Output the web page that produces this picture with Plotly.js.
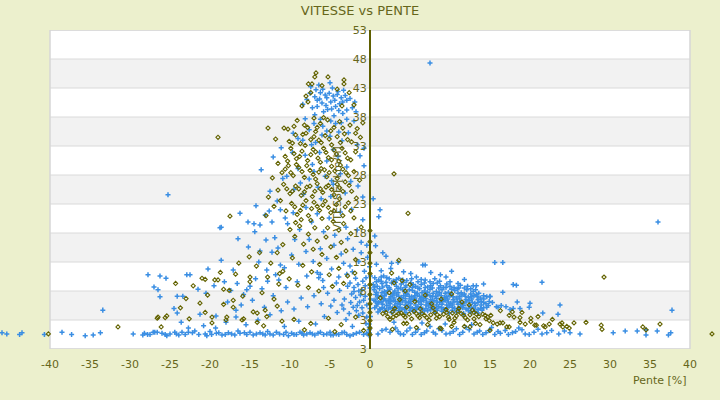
<!DOCTYPE html>
<html><head><meta charset="utf-8">
<script src="https://cdn.plot.ly/plotly-3.0.1.min.js"></script>
<style>html,body{margin:0;padding:0;background:#ecf0cd;}#chart{width:720px;height:400px;}</style>
</head><body><div id="chart"></div>
<script>
// Blue series (plus markers): [pente %, vitesse km/h]
const bluePts = [
[-46.0,0.8],[-45.4,0.6],[-43.8,0.5],[-43.5,0.8],[-40.7,0.5],[-38.5,0.9],[-37.3,0.5],[-35.6,0.3],[-34.6,0.4],[-33.7,0.8],[-33.4,4.7],
[-29.6,0.6],[-28.4,0.4],[-28.2,0.7],[-27.5,0.5],[-27.1,0.9],[-26.9,0.9],[-26.6,0.9],[-25.6,0.5],[-25.4,0.3],[-24.4,0.9],[-24.2,0.6],[-23.9,0.4],[-23.5,0.9],[-22.7,0.9],[-22.7,1.6],[-21.9,1.1],[-20.6,0.6],[-20.4,0.3],[-19.8,0.5],[-19.3,1.6],[-19.2,0.7],[-18.5,0.4],[-17.7,0.8],[-16.9,0.4],[-16.25,0.7],[-15.4,0.5],[-15.0,0.9],[-14.6,0.4],[-14.2,0.6],[-13.75,0.8],[-13.1,0.4],[-12.5,0.6],[-11.7,0.9],[-10.8,0.5],[-10.2,0.3],[-9.8,0.7],[-9.2,0.5],[-8.75,0.9],[-8.3,0.4],[-7.9,0.6],[-7.5,0.8],[-6.9,0.4],[-6.5,0.7],[-5.8,0.5],[-5.0,0.9],[-4.6,0.4],[-4.2,0.6],[-3.5,0.8],[-2.9,0.5],[-2.5,0.3],[-1.7,0.7],[-0.8,0.5],
[-27.8,0.5],[-26.0,0.7],[-25.0,0.6],[-23.1,0.5],[-22.2,0.8],[-21.4,0.5],[-20.0,1.0],[-18.9,0.8],[-18.1,0.5],[-17.3,0.6],[-16.5,1.1],[-15.7,0.8],[-13.4,0.6],[-12.8,1.0],[-12.1,0.4],[-11.3,0.6],[-10.5,0.9],[-9.5,0.5],[-8.5,0.7],[-7.2,0.6],[-6.2,0.9],[-5.4,0.6],[-4.9,0.4],[-3.9,0.5],[-3.2,0.9],[-2.1,0.5],[-1.3,0.9],[-0.4,0.7],
[-27.0,8.7],[-26.5,8.2],[-26.25,7.0],[-26.25,10.6],[-27.75,10.8],[-25.5,10.2],[-24.1,7.1],[-23.4,7.1],[-24.5,5.0],[-24.1,4.2],[-22.9,10.8],[-22.5,10.8],[-21.25,4.0],[-20.25,11.8],[-19.25,3.7],[-18.6,13.3],[-16.75,4.7],[-16.75,3.5],[-21.5,8.3],[-20.5,7.6],[-19.5,8.9],[-18.2,9.6],[-17.4,8.1],[-16.6,9.3],[-15.8,7.4],[-15.4,8.2],[-15.0,8.8],[-14.3,10.1],[-13.5,8.4],[-12.8,9.7],[-12.1,7.2],[-17.8,6.1],[-16.1,5.6],[-14.7,6.4],[-13.2,5.2],[-12.5,3.9],[-14.0,3.0],[-15.5,2.2],[-18.0,2.6],[-20.8,2.0],[-23.6,2.6],[-17.1,11.6],[-12.25,14.7],[-11.5,15.4],[-13.75,14.9],[-13.9,13.0],[-12.9,11.6],[-11.2,12.5],[-11.8,10.8],
[-25.25,24.6],[-18.6,19.0],[-18.75,18.9],[-16.25,21.4],[-16.5,17.0],[-14.25,22.7],[-15.25,19.9],[-14.5,19.6],[-13.75,19.4],[-14.4,18.2],[-13.1,21.1],[-12.6,21.8],[-12.25,19.9],[-13.6,28.9],[-12.1,31.1],[-11.1,32.7],[-12.5,25.2],[-11.6,23.5],[-10.9,27.4],[-11.9,17.2],[-10.6,20.6],[-15.2,15.6],[-13.0,16.8],
[-5.0,43.9],[-7.4,43.2],[-6.75,42.7],[-6.2,42.2],[-5.6,41.8],[-5.1,42.1],[-4.6,41.6],[-4.1,41.9],[-3.6,41.3],[-3.1,41.7],[-2.9,40.9],[-6.6,40.9],[-6.0,40.4],[-5.5,40.0],[-4.9,40.6],[-4.3,39.8],[-3.8,40.3],[-7.9,41.0],[-7.2,39.6],[-2.9,39.2],[-1.75,38.9],[-2.9,37.6],[-6.9,38.4],[-5.8,38.9],[-4.5,38.2],[-3.4,38.6],[-8.1,37.7],[-7.5,42.1],[-4.7,43.0],[-3.3,42.6],[-6.4,43.5],[-5.3,39.3],[-8.4,40.2],[-1.9,40.6],
[-6.9,41.5],[-6.3,41.1],[-5.4,41.3],[-4.4,40.9],[-3.4,40.6],[-5.9,42.8],[-4.0,42.4],[-2.5,41.2],[-6.6,39.8],[-4.8,39.4],[-3.9,39.1],[-2.2,39.6],[-7.0,36.9],[-6.2,37.6],[-4.9,37.3],[-3.6,37.0],[-2.0,37.3],[-5.4,35.6],[-3.9,35.4],[-7.3,33.2],[-6.0,34.9],
[-9.6,35.2],[-9.0,34.3],[-8.4,34.0],[-7.6,35.8],[-6.8,33.6],[-5.9,36.4],[-5.0,34.7],[-4.3,36.9],[-3.5,33.9],[-2.7,35.3],[-1.6,33.2],[-0.75,32.6],[-1.25,31.3],[-0.75,29.6],[-1.5,26.1],[-0.9,24.2],[-2.9,29.4],[-4.0,31.2],[-4.6,32.4],[-5.4,30.4],[-6.3,31.9],[-7.2,29.8],[-7.0,28.6],[-8.1,31.4],[-9.0,29.1],[-9.7,31.9],[-10.4,27.8],[-8.7,26.6],[-7.6,27.3],[-6.5,25.9],[-5.6,27.8],[-4.8,27.0],[-4.6,26.4],[-3.7,28.2],[-2.4,26.9],[-3.1,24.9],[-8.3,24.7],[-9.5,25.5],[-6.1,23.9],[-4.9,24.3],
[-11.2,22.0],[-10.3,19.6],[-9.6,21.5],[-8.8,18.6],[-8.0,22.4],[-7.3,19.9],[-6.6,21.3],[-5.8,18.2],[-5.1,20.6],[-4.4,17.6],[-3.7,21.6],[-3.0,19.0],[-2.3,22.1],[-1.6,18.5],[-0.9,20.3],[-1.1,16.4],[-2.1,15.2],[-2.8,17.0],[-3.6,14.4],[-4.5,15.9],[-5.4,13.6],[-6.2,15.3],[-7.1,13.1],[-8.0,14.8],[-8.9,12.6],[-9.8,14.2],[-10.7,12.0],[-9.4,16.9],[-7.6,16.9],[-6.6,11.2],[-5.9,9.8],[-6.4,10.3],[-6.2,10.9],[-4.8,11.8],[-3.9,10.4],[-2.5,12.3],[-1.4,13.1],[-0.7,11.4],[-7.9,10.6],[-9.1,9.6],[-10.5,8.6],[-11.4,9.9],
[-2.5,9.4],[-2.0,8.6],[-1.5,9.1],[-1.0,8.2],[-2.3,7.5],[-1.8,6.9],[-1.2,7.3],[-0.8,6.4],[-2.4,6.0],[-1.6,5.5],[-1.0,5.1],[-2.1,5.2],[-0.6,8.9],[-1.3,6.1],[-2.0,7.9],[-3.2,6.6],[-3.8,8.1],[-4.5,6.4],[-5.3,7.6],[-6.1,5.8],[-7.0,7.2],[-7.8,5.3],[-8.6,6.8],[-9.5,4.9],[-10.3,6.1],[-11.1,4.6],[-4.1,4.3],[-5.7,3.6],[-3.0,3.1],[-1.4,3.8],[-0.5,2.4],[-2.2,1.9],[-6.8,2.3],[-8.9,2.8],[-10.7,1.9],
[-0.4,3.5],[-0.9,4.2],[-1.7,4.6],[-2.6,4.1],[-0.4,5.6],[-0.6,7.1],[-1.4,8.0],[-2.8,8.8],[-0.9,9.7],[-1.8,10.2],[-0.5,10.3],[-2.9,10.9],[-3.3,12.8],[-4.2,9.4],[-4.9,5.4],[-5.8,8.6],[-3.5,5.6],[-0.3,13.8],[-1.1,14.6],[-0.4,15.9],[-2.2,11.3],[-3.3,4.9],
[-0.1,0.3],[-0.1,0.8],[-0.1,1.3],[-0.1,1.8],[-0.1,2.3],[0.05,3.6],[0.0,5.0],[0.05,6.6],[0.0,8.5],[0.05,10.6],[-0.05,12.2],
[0.4,23.9],[1.25,22.0],[1.1,20.8],[0.6,17.5],[0.7,15.8],[1.6,14.6],[2.0,14.0],[0.8,12.6],[1.4,11.5],[2.6,11.9],[2.7,12.8],[3.5,12.9],[6.6,12.5],[6.9,12.5],[10.2,11.4],[5.1,11.0],[7.6,11.2],[8.8,10.8],[4.2,11.3],[9.5,10.4],[11.8,10.0],[14.2,9.2],[12.9,8.9],[13.3,8.9],[17.9,9.1],[18.3,9.0],[21.5,9.5],[16.6,7.8],[15.0,7.0],[20.0,5.9],[23.75,5.6],[23.5,4.0],[21.6,4.2],[19.9,5.2],[18.75,5.0],[18.4,6.1],[17.9,5.0],[17.5,4.8],[17.0,5.3],[16.4,5.5],[16.0,5.2],[15.6,12.9],[16.6,12.9],[7.5,47.3],[36.0,19.9],[37.75,4.7],
[0.6,10.3],[1.1,9.9],[1.7,10.6],[2.4,10.1],[2.9,9.7],[3.6,10.2],[4.6,9.8],[5.8,10.4],[6.9,9.9],[8.1,10.1],
[0.4,9.1],[0.9,8.8],[1.5,9.3],[2.1,8.9],[2.7,9.4],[3.3,8.8],[3.9,9.2],[4.5,8.9],[5.1,9.4],[5.7,8.8],[6.4,9.1],[7.2,8.7],[7.9,9.3],[8.8,8.9],[9.6,9.2],[10.5,8.6],[11.3,9.0],[12.2,8.8],
[0.5,8.2],[1.2,8.4],[1.8,7.9],[2.5,8.3],[3.1,8.0],[3.8,8.5],[4.3,7.9],[4.9,8.2],[5.6,7.8],[6.2,8.4],[6.8,8.0],[7.5,8.3],[8.3,7.9],[9.0,8.2],[9.8,7.8],[10.6,8.1],[11.4,7.7],[12.1,8.2],[12.9,7.9],[13.6,7.6],
[0.7,7.4],[1.4,7.1],[2.0,7.5],[2.6,7.0],[3.3,7.3],[3.9,6.9],[4.6,7.4],[5.2,7.0],[5.9,7.3],[6.5,6.9],[7.1,7.4],[7.8,7.0],[8.5,7.3],[9.3,6.9],[10.0,7.2],[10.8,6.8],[11.5,7.3],[12.3,6.9],[13.0,7.2],[13.8,6.8],[14.6,7.0],[15.0,7.1],
[0.5,6.4],[1.1,6.0],[1.7,6.5],[2.3,6.1],[2.9,6.4],[3.5,5.9],[4.1,6.3],[4.8,6.0],[5.4,6.5],[6.1,6.1],[6.7,6.4],[7.4,5.9],[8.0,6.3],[8.7,6.0],[9.4,6.4],[10.1,5.9],[10.9,6.2],[11.6,5.8],[12.4,6.3],[13.1,5.9],[13.9,6.2],[14.5,5.8],[15.3,6.0],
[0.8,5.4],[1.5,5.1],[2.1,5.5],[2.8,5.0],[3.4,5.3],[4.0,4.9],[4.7,5.4],[5.3,5.0],[6.0,5.3],[6.6,4.9],[7.3,5.4],[7.9,5.0],[8.6,5.3],[9.2,4.9],[9.9,5.4],[10.6,5.0],[11.3,5.3],[12.0,4.9],[12.7,5.2],[13.5,4.8],[14.2,5.1],[15.8,5.3],
[1.0,4.4],[1.9,4.6],[2.7,4.3],[3.6,4.6],[4.5,4.3],[5.4,4.5],[6.3,4.2],[7.2,4.6],[8.1,4.3],[9.0,4.5],[9.9,4.2],[10.8,4.4],[11.7,4.1],[12.6,4.4],[13.5,4.2],
[0.8,9.6],[1.4,9.7],[2.0,9.5],[3.2,9.5],[4.2,9.5],[5.4,9.1],[6.0,9.6],[6.8,9.4],[7.6,8.9],[8.4,9.4],[9.2,8.6],[10.0,8.8],[10.9,8.4],[11.8,8.5],
[0.8,7.8],[1.5,7.7],[2.2,8.1],[2.9,7.6],[3.5,7.7],[4.1,8.2],[4.6,7.6],[5.3,8.1],[5.9,7.6],[6.5,7.7],[7.2,7.8],[7.9,7.6],[8.7,7.7],[9.4,7.6],[10.2,7.5],[11.0,7.6],[11.8,7.5],[12.6,7.5],[13.3,7.4],
[0.9,6.8],[1.7,6.7],[2.4,6.6],[3.0,6.8],[3.7,6.6],[4.4,6.7],[5.0,6.6],[5.6,6.8],[6.3,6.6],[7.0,6.7],[7.6,6.5],[8.3,6.7],[8.9,6.5],[9.7,6.6],[10.4,6.5],[11.2,6.6],[12.0,6.5],[12.7,6.6],[13.5,6.5],[14.2,6.6],
[0.9,5.8],[1.6,5.7],[2.5,5.8],[3.1,5.6],[3.8,5.7],[4.4,5.6],[5.1,5.8],[5.7,5.6],[6.4,5.7],[7.0,5.6],[7.7,5.7],[8.3,5.6],[9.0,5.7],[9.6,5.6],[10.3,5.6],[11.0,5.7],[11.7,5.5],[12.4,5.6],[13.2,5.5],[13.9,5.6],[14.8,5.5],
[1.3,4.8],[2.3,4.9],[3.1,4.7],[4.3,4.8],[5.0,4.7],[5.8,4.8],[6.8,4.6],[7.6,4.8],[8.4,4.7],[9.5,4.8],[10.3,4.7],[11.1,4.8],[12.3,4.6],[13.1,4.5],[14.0,4.7],
[1.4,10.4],[2.1,10.3],[3.3,10.0],[4.1,9.9],[5.2,10.1],[6.4,10.0],[7.5,9.6],[8.7,9.7],[10.0,9.6],[11.0,9.3],
[0.6,8.7],[1.6,8.7],[2.4,8.6],[3.5,8.4],[4.4,8.6],[5.3,8.6],[6.0,8.5],[6.9,8.6],[7.8,8.5],[8.6,8.5],[9.5,8.6],[10.2,8.3],[11.1,8.5],[12.6,8.4],[13.2,8.2],
[1.0,7.2],[1.8,7.2],[2.8,7.3],[3.6,7.1],[4.2,7.2],[4.9,7.1],[5.6,7.2],[6.2,7.1],[6.9,7.1],[7.5,7.2],[8.2,7.1],[8.9,7.2],[9.6,7.0],[10.4,7.0],[11.2,7.0],[11.9,7.1],[12.7,7.0],[13.4,7.0],[14.2,7.2],
[0.7,6.2],[1.4,6.2],[2.0,6.3],[2.6,6.2],[3.2,6.2],[3.8,6.1],[4.5,6.1],[5.1,6.2],[5.8,6.3],[6.4,6.2],[7.1,6.1],[7.7,6.2],[8.4,6.1],[9.1,6.2],[9.8,6.1],[10.5,6.1],[11.3,6.0],[12.0,6.1],[12.8,6.0],[13.5,6.0],[14.2,6.0],[14.9,6.2],
[0.6,5.1],[1.2,4.9],[1.8,5.0],[2.5,5.2],[3.1,5.1],[3.7,5.1],[4.4,5.1],[5.0,5.2],[5.7,5.1],[6.3,5.1],[7.0,5.0],[7.6,5.1],[8.3,5.0],[8.9,5.1],[9.6,5.1],[10.3,5.2],[11.0,5.0],[11.6,5.1],[12.3,5.0],[13.0,5.0],[13.8,5.0],[14.6,5.2],
[1.5,1.2],[2.5,0.9],[3.2,1.6],[3.8,0.6],[4.6,1.1],[5.3,0.5],[6.0,1.4],[6.8,0.8],[7.5,1.9],[8.2,0.6],[9.0,1.2],[10.0,0.7],[10.8,1.5],[11.6,0.9],[12.4,1.3],[13.0,0.6],[13.7,1.1],[14.5,0.8],[15.2,1.7],[16.0,1.0],[16.3,0.7],[16.9,1.2],[17.8,0.8],[18.6,1.6],[19.4,0.6],[20.5,0.9],[21.0,1.4],[22.1,0.8],[23.6,0.6],[24.3,1.1],[26.25,0.6],[30.4,0.8],[31.9,1.1],[33.4,1.1],[34.5,1.3],[34.5,0.4],[35.9,1.1],[37.3,0.4],[37.6,0.8],
[1.0,0.6],[2.0,1.4],[3.5,1.0],[4.2,0.5],[5.0,1.6],[5.7,0.9],[6.4,0.5],[7.1,1.1],[7.9,0.9],[8.6,1.5],[9.5,0.6],[10.4,1.0],[11.2,0.5],[12.0,1.7],[13.4,0.9],[14.1,0.5],[14.9,1.2],[15.6,0.5],[17.3,0.5],[18.2,1.0],[19.0,1.3],[19.9,0.5],[21.5,0.6],[22.7,1.2],[25.0,0.8],[12.7,2.2],[9.4,2.3],[6.5,2.5],[3.0,2.6]
];
// Olive series (diamond markers): [pente %, vitesse km/h]
const olivePts = [
[3.0,28.2],[4.75,21.4],[-19.0,34.5],[29.25,10.4],[42.75,0.6],[-40.2,0.6],[-17.5,20.9],[-31.5,1.8],
[1.6,4.1],[2.2,3.6],[2.8,4.4],[3.3,3.8],[3.9,4.2],[4.4,3.5],[4.9,4.0],[5.5,4.5],[6.0,3.7],[6.5,4.1],[7.1,3.4],[7.6,3.9],[8.1,4.3],[8.7,3.6],[9.2,4.0],[9.8,3.5],[10.3,4.2],[10.8,3.7],[11.4,4.1],[11.9,3.4],[12.5,3.9],[13.0,4.3],[13.6,3.6],[14.1,4.0],[14.7,3.5],[3.1,5.0],[4.6,5.2],[6.3,4.9],[7.9,5.1],[9.5,4.8],[11.1,5.0],[12.8,4.7],[2.5,3.1],[5.2,3.2],[7.4,3.0],[9.9,3.1],[12.2,3.0],[14.9,2.9],
[2.0,4.3],[3.6,4.1],[4.2,3.8],[5.8,4.1],[6.8,3.8],[8.4,3.9],[9.6,4.3],[11.0,4.5],[11.7,3.8],[13.3,4.0],[14.4,3.8],[2.9,3.5],[6.2,3.4],[8.3,3.3],[10.6,3.3],[13.0,3.2],
[1.3,6.8],[2.4,7.7],[3.7,6.5],[4.4,8.0],[5.6,6.2],[6.9,7.3],[7.7,5.8],[8.9,6.6],[10.2,7.5],[11.5,6.1],[12.4,5.6],[3.0,9.4],[4.0,9.8],[5.0,9.1],[2.7,11.1],[3.6,13.3],
[15.4,2.5],[15.9,2.3],[16.25,2.5],[16.6,2.5],[17.1,1.8],[17.4,1.8],[17.4,3.8],[18.0,3.5],[18.75,3.4],[19.4,2.3],[20.1,3.3],[20.1,2.7],[20.6,2.1],[20.8,2.1],[21.9,1.8],[22.4,2.3],[23.75,2.3],[24.1,1.8],[24.9,1.6],[25.5,2.5],[27.0,2.6],[28.9,2.1],[29.0,1.4],[34.1,1.8],[34.5,1.3],[36.25,2.3],[14.5,3.2],[15.1,3.8],[13.2,2.4],[11.8,1.9],[10.5,2.6],[8.9,1.5],[7.2,2.2],[5.8,1.7],[4.2,2.4],[2.8,1.4],[19.0,4.3],[21.0,3.6],[22.8,3.1],[16.3,4.6],[17.8,4.4],[4.6,2.4],[8.75,1.6],[10.2,1.9],[12.5,1.8],[13.75,2.2],[15.0,1.2],[18.75,2.6],[21.7,2.0],[24.0,2.5],[24.6,1.9],
[-6.75,45.6],[-6.9,44.9],[-5.25,44.9],[-7.7,43.7],[-7.25,43.7],[-3.25,44.4],[-3.25,43.7],[-4.1,42.8],[-8.0,41.6],[-7.75,40.6],[-7.4,42.2],[-6.0,43.4],[-2.6,42.2],[-8.5,39.9],[-2.0,40.1],[-3.5,39.9],
[-10.75,36.1],[-10.25,35.9],[-12.75,36.1],[-9.1,37.4],[-8.2,36.6],[-7.0,37.8],[-6.2,36.9],[-5.3,37.5],[-4.5,36.2],[-3.8,37.2],[-2.5,36.6],[-0.9,37.0],[-1.6,36.0],
[-10.1,33.8],[-9.3,34.9],[-8.7,33.4],[-8.0,35.2],[-7.4,34.1],[-6.8,35.5],[-6.1,33.6],[-5.6,34.8],[-4.8,33.2],[-4.1,34.6],[-3.2,35.1],[-2.3,33.7],[-1.2,34.5],[-11.8,34.2],
[-10.6,31.2],[-9.9,32.6],[-9.2,30.8],[-8.5,32.1],[-7.8,30.5],[-7.1,32.4],[-6.5,30.9],[-5.8,32.6],[-5.2,31.0],[-4.5,32.3],[-3.9,30.4],[-3.1,31.8],[-2.4,30.6],[-1.8,32.0],[-11.5,30.0],
[-11.0,28.4],[-10.2,29.6],[-9.6,27.9],[-8.9,29.3],[-8.2,27.6],[-7.5,28.8],[-6.8,27.3],[-6.1,29.1],[-5.4,27.7],[-4.8,29.5],[-4.1,27.4],[-3.4,29.0],[-2.7,27.9],[-2.0,28.6],[-1.3,27.1],[-12.2,27.5],
[-11.5,25.4],[-10.8,26.4],[-10.0,24.8],[-9.3,26.1],[-8.6,24.5],[-7.9,25.9],[-7.2,24.3],[-6.6,26.5],[-5.9,25.0],[-5.2,26.2],[-4.5,24.6],[-3.8,25.8],[-3.1,26.8],[-2.3,25.2],[-1.7,24.0],[-12.7,24.2],
[-12.0,22.6],[-11.2,23.6],[-10.5,21.8],[-9.8,23.1],[-9.1,21.2],[-8.4,22.8],[-7.7,21.0],[-7.0,23.3],[-6.3,21.9],[-5.6,23.5],[-4.9,21.5],[-4.2,22.9],[-3.4,21.0],[-2.7,23.2],[-2.0,20.6],[-1.1,19.0],[-13.0,21.0],
[-9.5,36.4],[-7.8,36.2],[-6.6,36.2],[-5.8,37.9],[-4.9,35.6],[-3.4,36.1],[-9.7,33.5],[-8.4,35.0],[-7.0,34.6],[-6.4,34.0],[-5.1,34.2],[-3.7,33.6],[-2.8,34.1],[-1.8,35.2],[-10.3,30.4],[-9.5,31.7],[-8.8,31.2],[-8.1,33.1],[-7.4,31.5],[-6.8,32.0],[-6.2,30.2],[-5.5,31.9],[-4.8,30.6],[-4.2,31.6],[-3.5,32.6],[-2.8,30.9],[-10.6,29.0],[-9.9,28.4],[-9.2,29.8],[-8.5,28.6],[-7.9,29.6],[-7.1,28.1],[-6.4,28.5],[-5.7,28.9],[-5.1,28.4],[-4.4,28.7],[-3.7,29.7],[-3.0,28.4],[-10.4,25.6],[-9.7,25.2],[-8.9,25.6],[-8.2,25.1],[-7.5,26.1],[-6.9,25.2],[-6.2,25.6],[-5.5,25.9],[-4.8,25.5],[-4.1,26.4],[-3.4,25.2],[-2.6,26.2],[-9.4,22.5],[-8.7,21.9],[-8.0,23.6],[-7.3,22.2],[-6.6,22.6],[-5.9,22.8],[-5.2,22.4],[-4.5,21.8],[-3.8,23.9],[-3.1,22.5],[-2.4,21.8],[-8.6,20.3],[-7.4,20.2],[-6.0,20.5],[-4.6,20.0],[-3.3,19.6],[-9.3,19.8],[-6.9,18.9],[-5.3,18.9],[-3.9,18.5],
[-10.0,18.6],[-9.4,17.4],[-8.8,19.2],[-8.3,16.1],[-7.7,17.8],[-7.1,15.2],[-6.6,16.6],[-6.0,14.3],[-5.5,17.3],[-4.9,15.6],[-4.2,13.8],[-3.6,16.4],[-3.0,14.9],[-2.4,17.9],[-1.8,13.4],[-10.9,16.0],[-11.6,14.6],[-9.7,13.7],[-8.4,12.4],[-7.3,11.3],[-6.3,12.6],[-5.1,10.8],[-3.9,11.9],[-2.8,10.6],[-12.4,12.8],[-11.3,11.0],[-10.1,10.1],[-9.0,9.0],[-7.7,8.6],[-6.4,8.0],[-4.7,8.8],[-3.3,9.3],[-1.9,11.1],
[-26.5,3.5],[-25.4,3.7],[-26.1,1.8],[-21.25,5.9],[-19.75,3.5],[-19.75,2.5],[-18.3,5.7],[-17.9,3.5],[-24.3,9.3],[-23.0,6.7],[-22.1,8.9],[-21.0,10.2],[-20.6,10.0],[-20.3,7.3],[-19.4,9.9],[-19.0,9.9],[-18.7,11.2],[-18.3,8.3],[-17.6,8.1],[-17.1,6.4],[-16.8,10.9],[-15.9,7.1],[-15.0,9.6],[-15.0,10.4],[-14.2,12.3],[-14.1,4.2],[-13.5,7.7],[-13.1,4.7],[-12.8,10.4],[-12.0,6.6],[-11.4,9.2],[-10.9,11.4],[-16.4,12.8],[-15.1,13.9],[-13.8,14.6],[-17.1,5.2],[-14.6,4.4],[-12.9,3.6],[-11.6,5.4],[-22.6,3.2],[-23.7,5.1],[-20.6,4.3],[-16.0,3.0],[-13.3,2.0],[-11.0,2.8],
[-26.6,3.3],[-25.6,3.4],[-18.0,3.0],[-15.8,3.2],[-14.1,2.6],[-9.5,3.1],[-7.4,2.4],[-5.2,3.3],[-3.6,2.2],[-1.8,3.5],[-0.8,1.2],[-4.4,1.0],[-8.2,1.3],
[0.0,0.5],[0.0,1.6],[0.0,2.9],[0.0,4.3],[0.0,5.8],[0.0,7.4],[0.0,9.1],[0.0,11.0],[0.0,12.8],[0.0,14.6],[0.0,16.5],[0.0,18.4]
];
const xTickVals = [-40,-35,-30,-25,-20,-15,-10,-5,0,5,10,15,20,25,30,35,40];
const xTickText = ["-40","-35","-30","-25","-20","-15","-10","-5","0","5","10","15","20","25","30","35","40"];
const yTickVals = [-2,3,8,13,18,23,28,33,38,43,48,53];
const yTickText = ["3","3","8","13","18","23","28","33","38","43","48","53"];
const bandRanges = [[3,8],[13,18],[23,28],[33,38],[43,48]];
const xLimits = [-40,40];
const yLimits = [-2,53];

const olive = '#66661a';
const fontFam = 'DejaVu Sans, sans-serif';

// geometry (pixels): plot area top 30, bottom 349; x tick labels below 356
const H = 400, T = 30, plotBottom = 349, xAxisPx = 356;
const areaH = H - T;
const yDomain = [(H - plotBottom) / areaH, 1];
const xAxisPos = (H - xAxisPx) / areaH;

const traces = [
  {type:'scatter', mode:'markers', x:bluePts.map(p=>p[0]), y:bluePts.map(p=>p[1]), cliponaxis:false,
   marker:{symbol:'cross-thin', size:3.6, line:{color:'#3a8ee3', width:1.5}, color:'#3a8ee3'}, hoverinfo:'x+y'},
  {type:'scatter', mode:'markers', x:olivePts.map(p=>p[0]), y:olivePts.map(p=>p[1]), cliponaxis:false,
   marker:{symbol:'diamond-open', size:3.2, line:{color:'#636300', width:1.1}, color:'#636300'}, hoverinfo:'x+y'}
];

const shapes = [{type:'rect', xref:'x', yref:'y', x0:xLimits[0], x1:xLimits[1], y0:yLimits[0], y1:yLimits[1],
  fillcolor:'#ffffff', line:{width:0}, layer:'below'}];
bandRanges.forEach(b=>shapes.push({type:'rect', xref:'x', yref:'y', x0:xLimits[0], x1:xLimits[1], y0:b[0], y1:b[1],
  fillcolor:'#f2f2f2', line:{width:0}, layer:'below'}));
yTickVals.forEach(v=>shapes.push({type:'line', xref:'x', yref:'y', x0:xLimits[0], x1:xLimits[1], y0:v, y1:v,
  line:{color:'#dadada', width:1}, layer:'below'}));
shapes.push({type:'rect', xref:'x', yref:'y', x0:xLimits[0], x1:xLimits[1], y0:yLimits[0], y1:yLimits[1],
  line:{color:'#d6d6d6', width:1.5}, layer:'below'});

const layout = {
  width:720, height:400,
  paper_bgcolor:'#ecf0cd', plot_bgcolor:'rgba(0,0,0,0)',
  margin:{l:0, r:0, t:T, b:0, pad:0},
  showlegend:false,
  font:{family:fontFam, color:olive, size:11},
  title:{text:'VITESSE vs PENTE', x:0.5, xref:'container', y:0.975, yref:'container', yanchor:'middle',
         font:{family:fontFam, size:13, color:olive}},
  xaxis:{range:[-46.25,43.75], tickvals:xTickVals, ticktext:xTickText, anchor:'free', position:xAxisPos,
         showgrid:false, zeroline:false, showline:false,
         ticks:'', tickfont:{family:fontFam, size:11, color:olive}, fixedrange:true},
  yaxis:{range:yLimits, domain:yDomain, tickvals:yTickVals, ticktext:yTickText, anchor:'free', position:370/720, side:'left',
         showgrid:false, zeroline:false, showline:true, linecolor:'#5f5f00', linewidth:2,
         ticks:'', tickfont:{family:fontFam, size:11, color:olive}, fixedrange:true},
  shapes:shapes,
  annotations:[
    {text:'Pente [%]', xref:'paper', yref:'paper', x:689/720, y:(H-380)/areaH, xanchor:'right', yanchor:'middle', showarrow:false,
     font:{family:fontFam, size:11, color:olive}},
    {text:'VITESSE [km/h]', xref:'paper', yref:'paper', x:337/720, y:(H-189.5)/areaH, xanchor:'center', yanchor:'middle', textangle:-90, showarrow:false,
     font:{family:fontFam, size:11, color:olive}}
  ]
};
Plotly.newPlot('chart', traces, layout, {displayModeBar:false, staticPlot:true});
</script>
</body></html>
